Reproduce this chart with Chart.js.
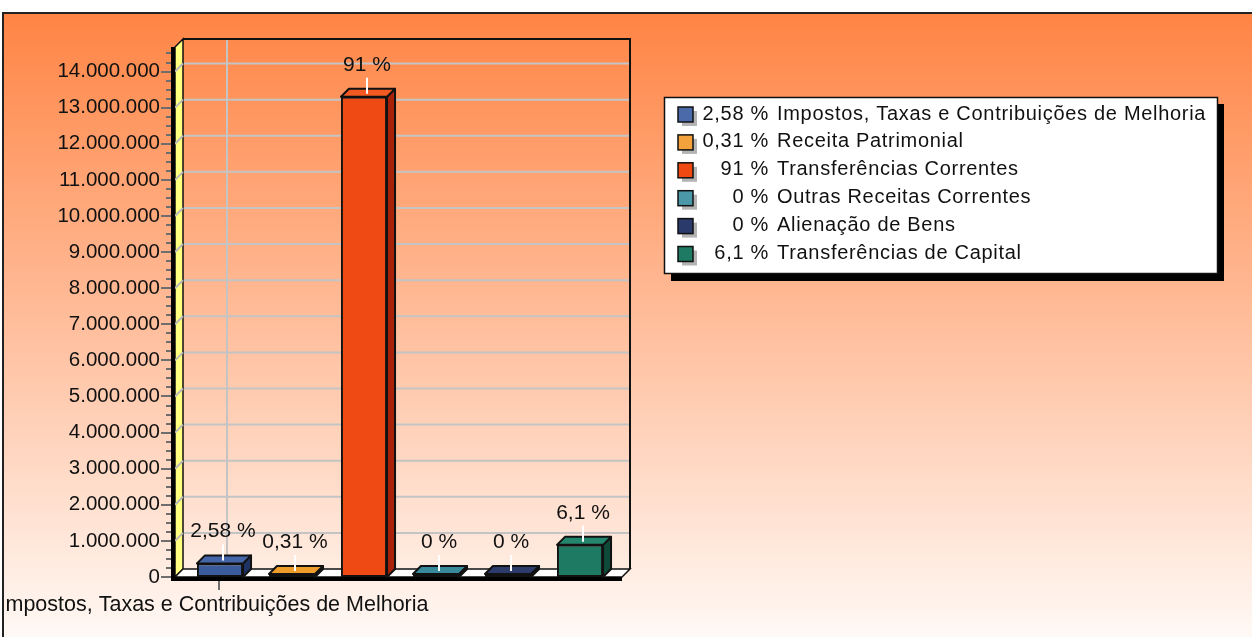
<!DOCTYPE html>
<html><head><meta charset="utf-8">
<script src="https://cdn.jsdelivr.net/npm/chart.js@4.4.0/dist/chart.umd.min.js"></script>
<style>html,body{margin:0;padding:0;background:#fff;overflow:hidden}canvas{display:block}</style>
</head><body>
<canvas id="c" width="1252" height="637"></canvas>
<script>
// ---- data ----
const categories = ['Impostos, Taxas e Contribuições de Melhoria','Receita Patrimonial','Transferências Correntes','Outras Receitas Correntes','Alienação de Bens','Transferências de Capital'];
const values = [377000, 45000, 13300000, 0, 0, 890000];
const percentLabels = ['2,58 %','0,31 %','91 %','0 %','0 %','6,1 %'];
const yTicks = [0,1000000,2000000,3000000,4000000,5000000,6000000,7000000,8000000,9000000,10000000,11000000,12000000,13000000,14000000];
const yTickLabels = ['0','1.000.000','2.000.000','3.000.000','4.000.000','5.000.000','6.000.000','7.000.000','8.000.000','9.000.000','10.000.000','11.000.000','12.000.000','13.000.000','14.000.000'];
const yMax = 14680000;
const yMinorStep = 250000;
// ---- styles ----
const frontColors = ['#3B5C9C','#E5901E','#F04A14','#2F7F8E','#24305E','#1E7A62'];
const topColors   = ['#4466A8','#EE9C2A','#F25A22','#38899A','#2C3A6C','#24866C'];
const sideColors  = ['#1E3263','#8E5410','#A8220A','#1A4C58','#111A36','#0E4A3A'];
const legendColors= ['#4A6AAA','#F4A23C','#F04A12','#4A98A8','#2A3A6A','#1E7A62'];
const FONT = "'Liberation Sans', Arial, sans-serif";
const DX = 8, DY = 8;

const bgPlugin = {
  id:'bg',
  beforeDraw(chart){
    const c = chart.ctx;
    c.save();
    c.fillStyle = '#fff'; c.fillRect(0,0,1252,637);
    const g = c.createLinearGradient(0,12,0,637);
    g.addColorStop(0,'#FF8444');
    g.addColorStop(0.5,'#FFBE9C');
    g.addColorStop(1,'#FFF9F5');
    c.fillStyle = g; c.fillRect(3,12,1249,625);
    c.restore();
  }
};

const wallPlugin = {
  id:'walls',
  beforeDatasetsDraw(chart){
    const c = chart.ctx, a = chart.chartArea, ys = chart.scales.y, xs = chart.scales.x;
    const fl = a.left - 9, fr = a.right + 6, bot = a.bottom, top = a.top;
    c.save();
    c.strokeStyle = '#C4C4C4'; c.lineWidth = 2;
    yTicks.slice(1).forEach(v => {
      const y = ys.getPixelForValue(v);
      c.beginPath(); c.moveTo(fl, y); c.lineTo(fl+DX, y-DY); c.lineTo(fr+DX, y-DY); c.stroke();
    });
    const gx = xs.getPixelForValue(0) + DX - 1;
    c.beginPath(); c.moveTo(gx, top-DY); c.lineTo(gx, bot-DY); c.stroke();
    c.strokeStyle = '#111'; c.lineWidth = 2;
    c.beginPath(); c.moveTo(fl+DX, top-DY); c.lineTo(fr+DX, top-DY); c.lineTo(fr+DX, bot-DY); c.stroke();
    c.fillStyle = '#FFFF80';
    c.beginPath(); c.moveTo(fl, top); c.lineTo(fl+DX, top-DY); c.lineTo(fl+DX, bot-DY); c.lineTo(fl, bot); c.closePath(); c.fill();
    c.strokeStyle = '#111'; c.lineWidth = 1.5; c.stroke();
    c.strokeStyle = '#B8B8B8'; c.lineWidth = 2;
    yTicks.slice(1).forEach(v => {
      const y = ys.getPixelForValue(v);
      c.beginPath(); c.moveTo(fl, y); c.lineTo(fl+DX, y-DY); c.stroke();
    });
    c.fillStyle = '#fff';
    c.beginPath(); c.moveTo(fl, bot); c.lineTo(fl+DX, bot-DY); c.lineTo(fr+DX, bot-DY); c.lineTo(fr, bot); c.closePath(); c.fill();
    c.strokeStyle = '#111'; c.lineWidth = 1.5; c.stroke();
    c.fillStyle = '#000'; c.fillRect(fl-3, bot, fr-fl+3, 4);
    c.fillRect(fl-4, top, 4, bot-top+4);
    c.strokeStyle = '#6E6E6E'; c.lineWidth = 2;
    for (let v = 0; v <= yMax; v += yMinorStep){
      const y = Math.round(ys.getPixelForValue(v));
      const major = yTicks.includes(v);
      c.beginPath(); c.moveTo(major ? fl-14 : fl-9, y); c.lineTo(fl-4, y); c.stroke();
    }
    const tx = xs.getPixelForValue(0) - 1;
    c.beginPath(); c.moveTo(tx, bot+4); c.lineTo(tx, bot+13); c.stroke();
    c.restore();
  }
};

const bar3dPlugin = {
  id:'bar3d',
  afterDatasetsDraw(chart){
    const c = chart.ctx, meta = chart.getDatasetMeta(0);
    c.save();
    meta.data.forEach((el, i) => {
      const p = el.getProps(['x','y','base','width'], true);
      const x1 = p.x - p.width/2, x2 = p.x + p.width/2;
      const yt = Math.min(p.y, p.base), yb = Math.max(p.y, p.base);
      c.lineWidth = 2; c.strokeStyle = '#111'; c.lineJoin = 'round';
      c.fillStyle = sideColors[i];
      c.beginPath(); c.moveTo(x2, yt); c.lineTo(x2+DX, yt-DY); c.lineTo(x2+DX, yb-DY); c.lineTo(x2, yb); c.closePath(); c.fill(); c.stroke();
      c.fillStyle = topColors[i];
      c.beginPath(); c.moveTo(x1, yt); c.lineTo(x1+DX, yt-DY); c.lineTo(x2+DX, yt-DY); c.lineTo(x2, yt); c.closePath(); c.fill(); c.stroke();
      const cx = p.x + 3;
      c.strokeStyle = '#fff'; c.lineWidth = 2;
      c.beginPath(); c.moveTo(cx, yt-3); c.lineTo(cx, yt-19); c.stroke();
      c.fillStyle = '#111'; c.font = '21px ' + FONT; c.textAlign = 'center'; c.textBaseline = 'middle';
      c.fillText(percentLabels[i], cx, yt-32);
    });
    c.restore();
  }
};

const legendPlugin = {
  id:'legend3d',
  afterDraw(chart){
    const c = chart.ctx;
    c.save();
    c.fillStyle = '#fff'; c.fillRect(0, 0, 2, 637);
    c.fillStyle = '#222'; c.fillRect(2, 12, 2, 625); c.fillRect(2, 12, 1250, 2);
    const L = 664, T = 97, R = 1217, B = 273;
    c.fillStyle = '#000'; c.fillRect(L+7, T+7, R-L, B-T+1);
    c.fillStyle = '#fff'; c.fillRect(L, T, R-L, B-T);
    c.strokeStyle = '#111'; c.lineWidth = 1.5; c.strokeRect(L+0.5, T+0.5, R-L, B-T);
    c.font = '20px ' + FONT; c.textBaseline = 'middle';
    try { c.letterSpacing = '0.7px'; } catch(e) {}
    categories.forEach((name, i) => {
      const cy = 114 + i*27.9;
      c.fillStyle = '#B4B4B4'; c.fillRect(682, cy-3, 15, 15);
      c.fillStyle = legendColors[i]; c.fillRect(678, cy-7, 15, 15);
      c.strokeStyle = '#111'; c.lineWidth = 1.5; c.strokeRect(678, cy-7, 15, 15);
      c.fillStyle = '#111';
      c.textAlign = 'right'; c.fillText(percentLabels[i], 769, cy);
      c.textAlign = 'left'; c.fillText(name, 777, cy);
    });
    c.restore();
  }
};

new Chart(document.getElementById('c'), {
  type:'bar',
  data:{ labels: categories, datasets:[{ data: values, backgroundColor: frontColors, borderColor:'#111', borderWidth:2, borderSkipped:false, minBarLength:3, barPercentage:0.64, categoryPercentage:1 }]},
  options:{
    responsive:false, animation:false, devicePixelRatio:1,
    layout:{ padding:{ top:47, right:1252-616, left:0, bottom:0 } },
    plugins:{ legend:{display:false}, tooltip:{enabled:false} },
    scales:{
      x:{
        grid:{display:false, drawTicks:false}, border:{display:false},
        ticks:{ autoSkip:false, maxRotation:0, minRotation:0, padding:15, labelOffset:-6, color:'#111', font:{family:FONT, size:21.5},
          callback:(v,i)=> i===0 ? categories[0] : '' },
        afterFit(s){ s.height = 60; s.paddingLeft = 0; s.paddingRight = 0; }
      },
      y:{
        min:0, max:yMax,
        grid:{display:false, drawTicks:false}, border:{display:false},
        afterBuildTicks(s){ s.ticks = yTicks.map(v => ({value: v})); },
        ticks:{ autoSkip:false, padding:24, color:'#111', font:{family:FONT, size:20.5},
          callback:(v)=> { const k = yTicks.indexOf(v); return k >= 0 ? yTickLabels[k] : ''; } },
        afterFit(s){ s.width = 184; s.paddingTop = 0; s.paddingBottom = 0; }
      }
    }
  },
  plugins:[bgPlugin, wallPlugin, bar3dPlugin, legendPlugin]
});
</script>
</body></html>
